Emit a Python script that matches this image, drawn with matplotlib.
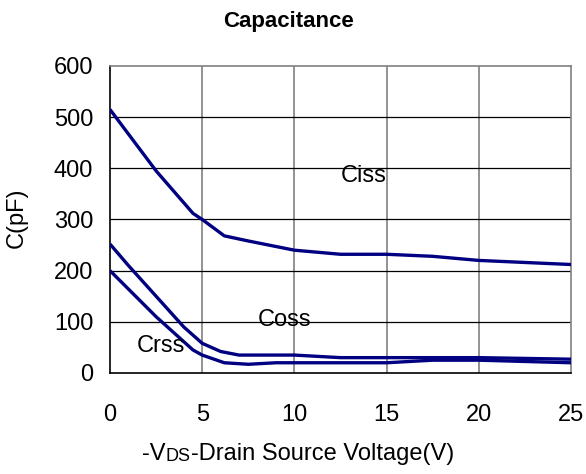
import matplotlib
matplotlib.use('Agg')
import matplotlib.pyplot as plt

plt.rcParams['font.family'] = ['Liberation Sans', 'DejaVu Sans']

# capacitance vs drain-source voltage
vds_ciss = [0, 2.5, 4.5, 5, 6.2, 7.5, 10, 12.5, 15, 17.5, 20, 25]
ciss = [515, 395, 312, 300, 268, 258, 240, 232, 232, 228, 220, 212]

vds_coss = [0, 1, 2.5, 4, 5, 6, 7, 10, 12.5, 15, 20, 25]
coss = [252, 210, 150, 90, 58, 42, 35, 35, 30, 30, 30, 27]

vds_crss = [0, 2.5, 4.5, 5, 6.2, 7.5, 9, 15, 17.5, 20, 25]
crss = [200, 110, 45, 35, 20, 17, 20, 20, 25, 25, 20]

xticks = [0, 5, 10, 15, 20, 25]
yticks = [0, 100, 200, 300, 400, 500, 600]

fig = plt.figure(figsize=(5.86, 4.74), dpi=100)
ax = fig.add_axes([0.1877, 0.2131, 0.7867, 0.6477])

navy = '#000080'
for x, y in [(vds_ciss, ciss), (vds_coss, coss), (vds_crss, crss)]:
    ax.plot(x, y, color=navy, lw=2.4, solid_capstyle='butt', zorder=3)

ax.set_xlim(0, 25)
ax.set_ylim(0, 600)
ax.set_xticks(xticks)
ax.set_yticks(yticks)
ax.tick_params(labelsize=17, length=0)
ax.tick_params(axis='y', pad=12)
ax.tick_params(axis='x', pad=22)

# grid: grey verticals, black horizontals
for x in xticks[1:-1]:
    ax.axvline(x, color='#808080', lw=1.2, zorder=1)
for y in yticks[1:-1]:
    ax.axhline(y, color='black', lw=0.9, zorder=1)

ax.spines['left'].set_color('black')
ax.spines['bottom'].set_color('black')
ax.spines['top'].set_color('#808080')
ax.spines['right'].set_color('#808080')
for s in ax.spines.values():
    s.set_linewidth(1.2)

ax.text(12.5, 385, 'Ciss', fontsize=17, va='center')
ax.text(8.0, 103, 'Coss', fontsize=17, va='center')
ax.text(1.45, 53, 'Crss', fontsize=17, va='center')

fig.text(0.492, 0.955, 'Capacitance', fontsize=16, fontweight='bold', ha='center', va='center')
fig.text(0.028, 0.54, 'C(pF)', fontsize=17, rotation=90, ha='center', va='center')

# x label with smaller "DS"
t1 = fig.text(0.243, 0.03, '-V', fontsize=17, va='baseline')
t2 = ax.annotate('DS', xy=(1, 0), xycoords=t1, fontsize=13, va='bottom')
ax.annotate('-Drain Source Voltage(V)', xy=(1, 0), xycoords=t2, fontsize=17, va='bottom')

fig.savefig('out.png', dpi=100)
